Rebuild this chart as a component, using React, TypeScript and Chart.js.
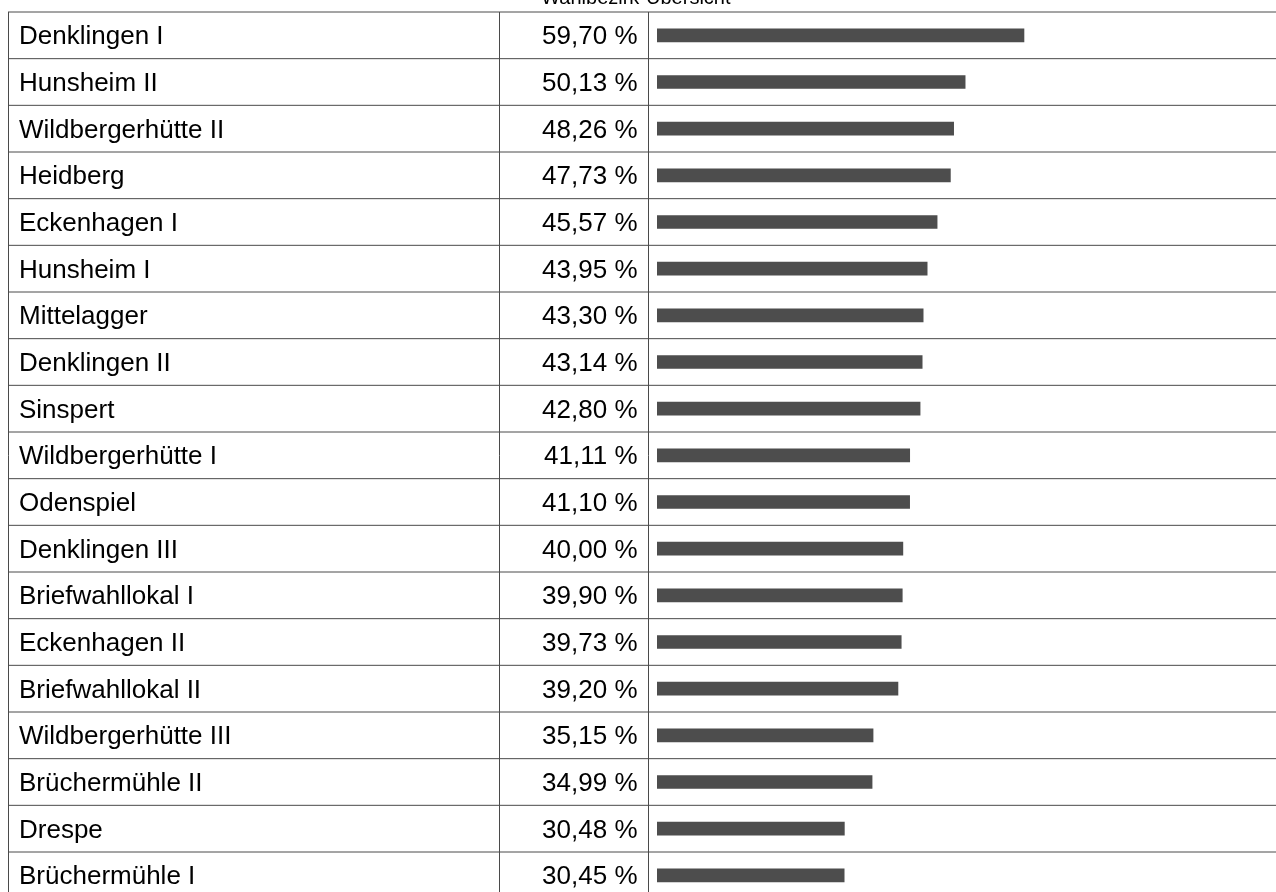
import { useEffect, useRef } from "react";
import { Chart, registerables } from "chart.js";

Chart.register(...registerables);

const TITLE = "Wahlbezirk-Übersicht";

const districts = [
  "Denklingen I",
  "Hunsheim II",
  "Wildbergerhütte II",
  "Heidberg",
  "Eckenhagen I",
  "Hunsheim I",
  "Mittelagger",
  "Denklingen II",
  "Sinspert",
  "Wildbergerhütte I",
  "Odenspiel",
  "Denklingen III",
  "Briefwahllokal I",
  "Eckenhagen II",
  "Briefwahllokal II",
  "Wildbergerhütte III",
  "Brüchermühle II",
  "Drespe",
  "Brüchermühle I",
];

const shares = [
  59.7, 50.13, 48.26, 47.73, 45.57, 43.95, 43.3, 43.14, 42.8, 41.11, 41.1, 40.0,
  39.9, 39.73, 39.2, 35.15, 34.99, 30.48, 30.45,
];

const FONT = '"Liberation Sans", Arial, Helvetica, sans-serif';
const CANVAS_W = 1276;
const CANVAS_H = 930;
const OFFSET_Y = 14;

function formatShare(v: number): string {
  return v.toFixed(2).replace(".", ",") + " %";
}

export default function App() {
  const ref = useRef<HTMLCanvasElement>(null);

  useEffect(() => {
    if (!ref.current) return;

    const tablePlugin = {
      id: "tableGrid",
      afterDraw(chart: any) {
        const ctx = chart.ctx;
        const area = chart.chartArea;
        const y = chart.scales.y;
        const n = districts.length;
        const step = n > 1 ? y.getPixelForValue(1) - y.getPixelForValue(0) : area.bottom - area.top;
        const top = y.getPixelForValue(0) - step / 2;
        const bottom = y.getPixelForValue(n - 1) + step / 2;

        ctx.save();
        ctx.strokeStyle = "#4a4a4a";
        ctx.lineWidth = 1;
        // horizontal row lines
        for (let i = 0; i <= n; i++) {
          const yy = top + i * step;
          ctx.beginPath();
          ctx.moveTo(8, yy);
          ctx.lineTo(chart.width, yy);
          ctx.stroke();
        }
        // vertical column lines
        const cols = [8.5, 499.5, 648.5];
        for (const cx of cols) {
          ctx.beginPath();
          ctx.moveTo(cx, top);
          ctx.lineTo(cx, bottom);
          ctx.stroke();
        }

        // text cells
        ctx.fillStyle = "#000";
        ctx.font = `26px ${FONT}`;
        ctx.textBaseline = "alphabetic";
        for (let i = 0; i < n; i++) {
          const cy = y.getPixelForValue(i);
          ctx.textAlign = "left";
          ctx.fillText(districts[i], 19, cy + 9);
          ctx.textAlign = "right";
          ctx.fillText(formatShare(shares[i]), 637.5, cy + 9);
        }
        ctx.restore();
      },
    };

    const chart = new Chart(ref.current, {
      type: "bar",
      data: {
        labels: districts,
        datasets: [
          {
            data: shares,
            backgroundColor: "#4d4d4d",
            borderWidth: 0,
            barThickness: 13,
          },
        ],
      },
      options: {
        indexAxis: "y",
        responsive: false,
        devicePixelRatio: 1,
        animation: false,
        events: [],
        layout: {
          padding: { top: 0, left: 0, right: 4.3, bottom: CANVAS_H - (26 + 19 * (840 / 18)) },
        },
        plugins: {
          legend: { display: false },
          tooltip: { enabled: false },
          title: {
            display: true,
            text: TITLE,
            color: "#000",
            font: { family: FONT, size: 20, weight: "normal" },
            padding: { top: 0, bottom: 2 },
          },
        },
        scales: {
          x: {
            display: false,
            min: 0,
            max: 100,
          },
          y: {
            display: true,
            afterFit: (scale: any) => {
              scale.width = 657;
            },
            ticks: { display: false },
            grid: { display: false },
            border: { display: false },
          },
        },
      },
      plugins: [tablePlugin],
    } as any);

    return () => chart.destroy();
  }, []);

  return (
    <div
      style={{
        position: "fixed",
        left: 0,
        top: 0,
        width: CANVAS_W,
        height: 892,
        overflow: "hidden",
        background: "#fff",
      }}
    >
      <canvas
        ref={ref}
        width={CANVAS_W}
        height={CANVAS_H}
        style={{ position: "absolute", left: 0, top: -OFFSET_Y, width: CANVAS_W, height: CANVAS_H }}
      />
    </div>
  );
}
